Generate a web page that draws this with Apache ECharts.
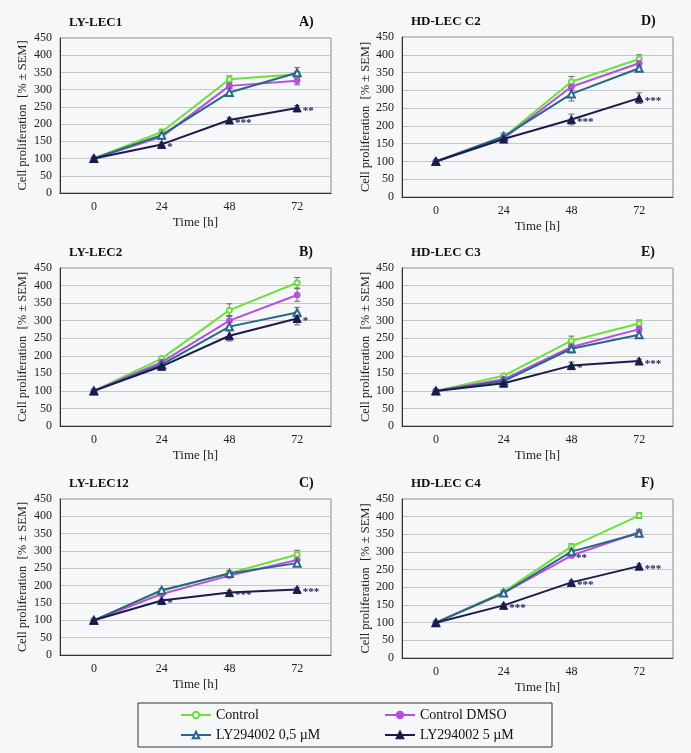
<!DOCTYPE html>
<html>
<head>
<meta charset="utf-8">
<script src="https://cdn.jsdelivr.net/npm/echarts@6/dist/echarts.min.js"></script>
<style>
html,body{margin:0;padding:0;background:#f5f7f8;}
#chart{width:691px;height:753px;}
</style>
</head>
<body>
<div id="chart"></div>
<script>
// ---- data ----
const timeLabels = ['0', '24', '48', '72'];
const panelTitles = ['LY-LEC1', 'LY-LEC2', 'LY-LEC12', 'HD-LEC C2', 'HD-LEC C3', 'HD-LEC C4'];
const panelLetters = ['A)', 'B)', 'C)', 'D)', 'E)', 'F)'];
const seriesNames = ['Control', 'Control DMSO', 'LY294002 0,5 µM', 'LY294002 5 µM'];

// values per panel (A, B, C, D, E, F)
const controlValues = [
  [100, 177, 330, 345], [100, 192, 330, 408], [100, 185, 236, 290],
  [100, 168, 324, 388], [100, 143, 243, 292], [100, 187, 315, 403]
];
const dmsoValues = [
  [100, 163, 311, 326], [100, 182, 300, 373], [100, 176, 229, 274],
  [100, 165, 310, 376], [100, 133, 225, 276], [100, 184, 290, 356]
];
const ly05Values = [
  [100, 168, 292, 349], [100, 175, 283, 323], [100, 187, 235, 265],
  [100, 170, 290, 362], [100, 128, 220, 260], [100, 184, 301, 353]
];
const ly5Values = [
  [100, 141, 212, 247], [100, 170, 257, 306], [100, 157, 180, 189],
  [100, 163, 218, 278], [100, 122, 172, 185], [100, 149, 214, 260]
];
// SEM per panel
const controlErr = [
  [0, 8, 10, 8], [0, 6, 18, 15], [0, 6, 8, 12],
  [0, 8, 15, 12], [0, 6, 13, 10], [0, 5, 8, 8]
];
const dmsoErr = [
  [0, 6, 8, 12], [0, 6, 15, 18], [0, 5, 6, 10],
  [0, 8, 10, 10], [0, 5, 10, 8], [0, 5, 6, 8]
];
const ly05Err = [
  [0, 6, 12, 15], [0, 5, 12, 15], [0, 5, 6, 8],
  [0, 10, 20, 10], [0, 5, 12, 8], [0, 5, 6, 8]
];
const ly5Err = [
  [0, 4, 6, 7], [0, 4, 15, 18], [0, 4, 6, 6],
  [0, 6, 15, 15], [0, 4, 10, 6], [0, 4, 5, 6]
];
// significance marks
const ly5Sig = [
  ['', '*', '***', '**'], ['', '', '', '*'], ['', '*', '***', '***'],
  ['', '', '***', '***'], ['', '', '*', '***'], ['', '***', '***', '***']
];
const dmsoSig = [
  ['', '', '', ''], ['', '', '', ''], ['', '', '', ''],
  ['', '', '', ''], ['', '', '', ''], ['', '', '**', '']
];

// ---- layout / style ----
const FONT = '"Liberation Serif", "DejaVu Serif", serif';
const grids = [
  {left: 60, top: 38, width: 271, height: 155},
  {left: 60, top: 268, width: 271, height: 158},
  {left: 60, top: 499, width: 271, height: 156},
  {left: 402, top: 37, width: 271, height: 160},
  {left: 402, top: 268, width: 271, height: 158},
  {left: 402, top: 499, width: 271, height: 159}
];
const colors = ['#6ee03a', '#b84ee0', '#2a6688', '#1b1b4e'];
const symbols = ['emptyCircle', 'circle', 'emptyTriangle', 'triangle'];
const symbolSizes = [5, 6, 7, 8];
const allValues = [controlValues, dmsoValues, ly05Values, ly5Values];
const allErr = [controlErr, dmsoErr, ly05Err, ly5Err];
const allSig = [null, dmsoSig, null, ly5Sig];

const gridOpts = [], xAxes = [], yAxes = [], series = [], titles = [];
grids.forEach((g, p) => {
  gridOpts.push(Object.assign({show: true, borderColor: '#8a8a8a', borderWidth: 1, backgroundColor: 'transparent'}, g));
  xAxes.push({
    type: 'category', gridIndex: p, data: timeLabels, boundaryGap: true,
    name: 'Time [h]', nameLocation: 'middle', nameGap: 23,
    nameTextStyle: {fontFamily: FONT, fontSize: 13, color: '#222'},
    axisLine: {lineStyle: {color: '#333', width: 1}},
    axisTick: {alignWithLabel: true, length: 4, lineStyle: {color: '#333'}},
    axisLabel: {fontFamily: FONT, fontSize: 12, color: '#222', margin: 8},
    splitLine: {show: false}
  });
  yAxes.push({
    type: 'value', gridIndex: p, min: 0, max: 450, interval: 50,
    name: 'Cell proliferation  [% ± SEM]', nameLocation: 'middle', nameGap: p < 3 ? 31 : 28,
    nameTextStyle: {fontFamily: FONT, fontSize: 12.5, color: '#222'},
    axisLine: {show: true, lineStyle: {color: '#333', width: 1}},
    axisTick: {show: false},
    axisLabel: {fontFamily: FONT, fontSize: 12, color: '#222', margin: 8},
    splitLine: {lineStyle: {color: '#c6c6c6', width: 1}}
  });
  titles.push({
    text: panelTitles[p], left: g.left + 4, top: g.top - 27,
    textStyle: {fontFamily: FONT, fontSize: 13, fontWeight: 'bold', color: '#111'}
  });
  titles.push({
    text: panelLetters[p], left: g.left + 234, top: g.top - 28,
    textStyle: {fontFamily: FONT, fontSize: 14, fontWeight: 'bold', color: '#111'}
  });
  // error bars
  const errData = [];
  for (let s = 0; s < 4; s++) {
    const v = allValues[s][p], e = allErr[s][p];
    for (let i = 0; i < v.length; i++) {
      if (e[i] > 0) errData.push([i, v[i] - e[i], v[i] + e[i]]);
    }
  }
  series.push({
    type: 'custom', name: 'err' + p, xAxisIndex: p, yAxisIndex: p, z: 1,
    silent: true,
    renderItem: function (params, api) {
      const x = api.value(0);
      const lo = api.coord([x, api.value(1)]);
      const hi = api.coord([x, api.value(2)]);
      const hw = 3;
      const st = {stroke: '#6a6a6a', lineWidth: 1, fill: null};
      return {
        type: 'group', children: [
          {type: 'line', shape: {x1: lo[0], y1: lo[1], x2: hi[0], y2: hi[1]}, style: st},
          {type: 'line', shape: {x1: lo[0] - hw, y1: lo[1], x2: lo[0] + hw, y2: lo[1]}, style: st},
          {type: 'line', shape: {x1: hi[0] - hw, y1: hi[1], x2: hi[0] + hw, y2: hi[1]}, style: st}
        ]
      };
    },
    encode: {x: 0, y: [1, 2]},
    data: errData
  });
  for (let s = 0; s < 4; s++) {
    const sig = allSig[s] ? allSig[s][p] : null;
    series.push({
      type: 'line', name: seriesNames[s], xAxisIndex: p, yAxisIndex: p,
      data: allValues[s][p], symbol: symbols[s], symbolSize: symbolSizes[s],
      color: colors[s], z: 2 + s,
      lineStyle: {width: 2, color: colors[s]},
      itemStyle: {color: colors[s], borderColor: colors[s], borderWidth: 1},
      label: sig ? {
        show: true, position: 'right', distance: 1, offset: [0, 3],
        fontFamily: FONT, fontSize: 11, fontWeight: 'bold', color: '#1b1b4e',
        formatter: (prm) => sig[prm.dataIndex]
      } : {show: false},
      animation: false
    });
  }
});

const legendText = {fontFamily: FONT, fontSize: 14, color: '#111'};
const option = {
  backgroundColor: '#f5f7f8',
  animation: false,
  title: titles,
  grid: gridOpts,
  xAxis: xAxes,
  yAxis: yAxes,
  series: series,
  legend: [
    {data: [seriesNames[0], seriesNames[2]], orient: 'vertical', left: 180, top: 708,
     itemWidth: 30, itemHeight: 8, itemGap: 6, textStyle: legendText, padding: 0},
    {data: [seriesNames[1], seriesNames[3]], orient: 'vertical', left: 384, top: 708,
     itemWidth: 30, itemHeight: 8, itemGap: 6, textStyle: legendText, padding: 0}
  ],
  graphic: [{
    type: 'rect', shape: {x: 138, y: 703, width: 414, height: 44},
    style: {fill: 'transparent', stroke: '#333', lineWidth: 1}
  }]
};
const chart = echarts.init(document.getElementById('chart'), null, {renderer: 'canvas'});
chart.setOption(option);
</script>
</body>
</html>
